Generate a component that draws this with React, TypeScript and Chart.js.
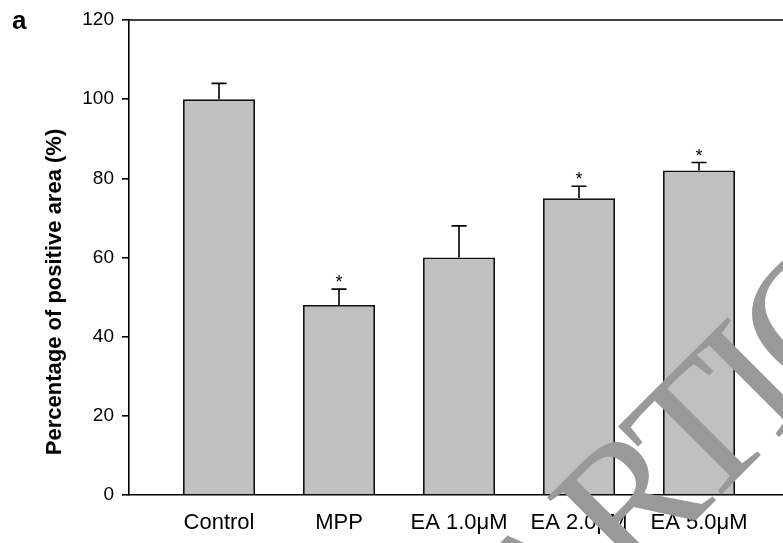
import React, { useEffect, useRef } from 'react';
import { Chart, registerables } from 'chart.js';

Chart.register(...registerables);

const categories = ['Control', 'MPP', 'EA 1.0μM', 'EA 2.0μM', 'EA 5.0μM'];
const values = [100, 48, 60, 75, 82];
const errors = [4, 4, 8, 3, 2];
const significant = [false, true, false, true, true];
const yMin = 0;
const yMax = 120;
const yStep = 20;
const yTitle = 'Percentage of positive area (%)';
const panelLabel = 'a';
const watermark = 'ARTICLE';

const SANS = '"Liberation Sans", Arial, sans-serif';
const SERIF = '"Liberation Serif", "Times New Roman", serif';

const overlay = {
  id: 'overlay',
  afterDatasetsDraw(chart: any) {
    const { ctx, chartArea } = chart;
    const x = chart.scales.x;
    const y = chart.scales.y;
    ctx.save();
    ctx.strokeStyle = '#000';
    ctx.fillStyle = '#000';
    ctx.lineWidth = 1.6;
    // top frame line
    ctx.beginPath();
    ctx.moveTo(chartArea.left, chartArea.top);
    ctx.lineTo(chartArea.right, chartArea.top);
    ctx.stroke();
    values.forEach((v, i) => {
      const px = x.getPixelForValue(i);
      const base = y.getPixelForValue(v);
      const top = y.getPixelForValue(v + errors[i]);
      ctx.beginPath();
      ctx.moveTo(px, base);
      ctx.lineTo(px, top);
      ctx.moveTo(px - 7.5, top);
      ctx.lineTo(px + 7.5, top);
      ctx.stroke();
      if (significant[i]) {
        ctx.font = `18px ${SANS}`;
        ctx.textAlign = 'center';
        ctx.textBaseline = 'alphabetic';
        ctx.fillText('*', px, top - 1);
      }
    });
    ctx.restore();
  },
  afterDraw(chart: any) {
    const { ctx } = chart;
    ctx.save();
    // panel label
    ctx.fillStyle = '#000';
    ctx.font = `bold 26px ${SANS}`;
    ctx.textAlign = 'left';
    ctx.textBaseline = 'alphabetic';
    ctx.fillText(panelLabel, 12, 29);
    // y title
    ctx.save();
    ctx.translate(55, 292);
    ctx.rotate(-Math.PI / 2);
    ctx.font = `bold 22px ${SANS}`;
    ctx.textAlign = 'center';
    ctx.textBaseline = 'middle';
    ctx.fillText(yTitle, 0, 0);
    ctx.restore();
    // watermark
    ctx.save();
    ctx.translate(541.6, 674.3);
    ctx.rotate((-45 * Math.PI) / 180);
    ctx.font = `185px ${SERIF}`;
    try {
      (ctx as any).letterSpacing = '-10px';
    } catch (e) {}
    ctx.fillStyle = '#999999';
    ctx.textAlign = 'left';
    ctx.textBaseline = 'alphabetic';
    ctx.fillText(watermark, 0, 0);
    ctx.restore();
    ctx.restore();
  },
};

export default function App() {
  const ref = useRef<HTMLCanvasElement | null>(null);

  useEffect(() => {
    if (!ref.current) return;
    const chart = new Chart(ref.current, {
      type: 'bar',
      data: {
        datasets: [
          {
            data: values.map((v, i) => ({ x: i, y: v })),
            backgroundColor: '#c0c0c0',
            borderColor: '#111',
            borderWidth: 1.8,
            barPercentage: 0.6,
            categoryPercentage: 1,
          },
        ],
      },
      options: {
        responsive: false,
        animation: false,
        layout: { padding: { top: 20, left: 0, right: 0, bottom: 0 } },
        plugins: {
          legend: { display: false },
          tooltip: { enabled: false },
          title: { display: false },
        },
        scales: {
          x: {
            type: 'linear',
            offset: false,
            min: -0.75,
            max: 4.7,
            afterFit(scale: any) {
              scale.height = 48;
            },
            afterBuildTicks(scale: any) {
              scale.ticks = categories.map((_, i) => ({ value: i }));
            },
            grid: { display: true, offset: false, drawOnChartArea: false, drawTicks: false },
            border: { display: true, color: '#000', width: 1.6 },
            ticks: {
              autoSkip: false,
              maxRotation: 0,
              padding: 15,
              color: '#000',
              font: { size: 22, family: SANS },
              callback: (v: any) => categories[v] ?? '',
            },
          },
          y: {
            type: 'linear',
            min: yMin,
            max: yMax,
            afterFit(scale: any) {
              scale.width = 129;
            },
            grid: {
              display: true,
              drawOnChartArea: false,
              drawTicks: true,
              tickLength: 7,
              color: '#000',
              lineWidth: 1.6,
            },
            border: { display: true, color: '#000', width: 1.6 },
            ticks: {
              stepSize: yStep,
              padding: 8,
              color: '#000',
              font: { size: 19, family: SANS },
            },
          },
        },
      },
      plugins: [overlay],
    });
    return () => chart.destroy();
  }, []);

  return (
    <div style={{ position: 'absolute', left: 0, top: 0, width: 783, height: 543, background: '#fff' }}>
      <canvas ref={ref} width={783} height={543} />
    </div>
  );
}
